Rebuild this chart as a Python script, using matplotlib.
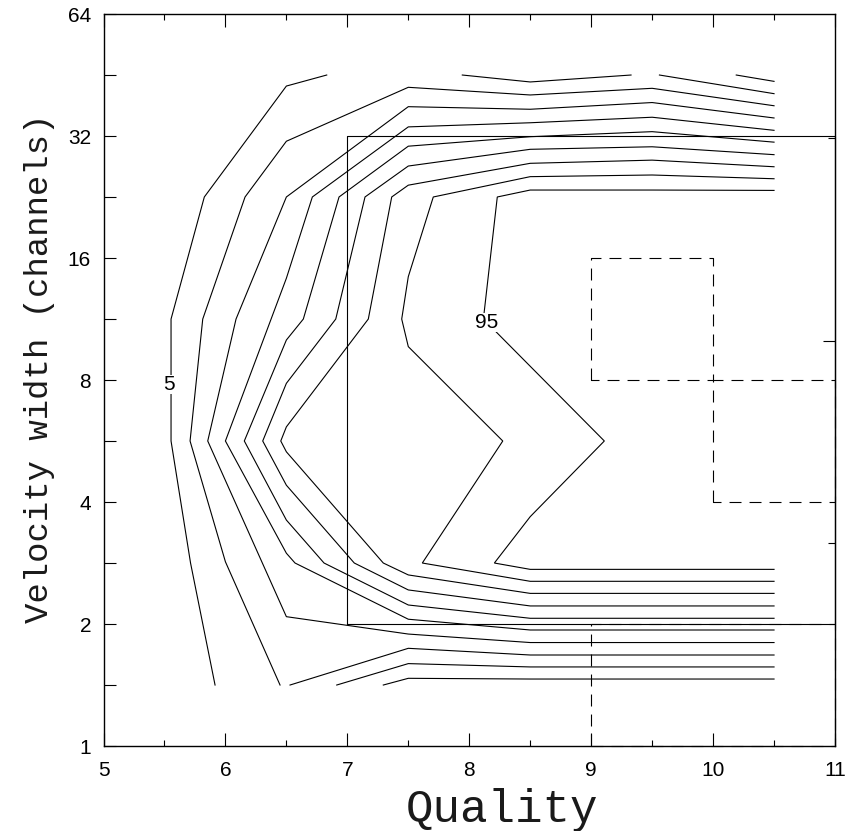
import matplotlib
matplotlib.use("Agg")
import matplotlib.pyplot as plt
from matplotlib.ticker import FixedLocator, FixedFormatter, NullFormatter

# ---- contour levels (completeness, percent) ----
levels = [5, 16.25, 27.5, 38.75, 50, 61.25, 72.5, 83.75, 95]

# ---- contour polylines: quality vs velocity width (channels) ----
# level 5 (several pieces: it leaves and re-enters the grid top edge)
c1_q = [5.915, 5.714, 5.554, 5.554, 5.827, 6.5, 6.831]
c1_w = [1.414, 2.828, 5.657, 11.31, 22.63, 42.5, 45.25]
c1b_q = [7.943, 8.5, 9.327]
c1b_w = [45.25, 43.5, 45.25]
c1c_q = [9.56, 10.5]
c1c_w = [45.25, 40.7]
c1d_q = [10.19, 10.5]
c1d_w = [45.25, 43.65]

c2_q = [6.448, 6.0, 5.71, 5.814, 6.161, 6.5, 7.5, 8.5, 9.5, 10.5]
c2_w = [1.414, 2.848, 5.657, 11.31, 22.63, 31.06, 42.2, 40.4, 41.96, 38.0]

c3_q = [10.5, 8.5, 7.5, 6.5, 5.855, 6.087, 6.5, 7.5, 8.5, 9.5, 10.5]
c3_w = [1.80, 1.80, 1.889, 2.085, 5.657, 11.31, 22.63, 37.8, 37.25, 38.7, 35.45]

c4_q = [10.5, 8.5, 7.5, 6.571, 6.5, 6.0, 6.5, 6.713, 7.5, 8.5, 9.5, 10.5]
c4_w = [1.933, 1.933, 2.055, 2.828, 2.99, 5.657, 14.26, 22.63, 33.7, 34.5, 35.6, 33.05]

c5_q = [10.5, 8.5, 7.5, 6.809, 6.5, 6.155, 6.5, 6.639, 6.932, 7.5, 8.5, 9.5, 10.5]
c5_w = [2.066, 2.066, 2.228, 2.828, 3.61, 5.657, 10.04, 11.31, 22.63, 30.2, 31.87, 32.8, 30.9]

c6_q = [10.5, 8.5, 7.5, 7.057, 6.5, 6.306, 6.5, 6.905, 7.145, 7.5, 8.5, 9.5, 10.5]
c6_w = [2.216, 2.216, 2.427, 2.828, 4.40, 5.657, 7.85, 11.31, 22.63, 26.98, 29.67, 30.1, 28.78]

c7_q = [10.5, 8.5, 7.5, 7.295, 6.5, 6.454, 6.5, 7.172, 7.364, 7.5, 8.5, 9.5, 10.5]
c7_w = [2.38, 2.38, 2.643, 2.828, 5.32, 5.657, 6.13, 11.31, 22.63, 24.2, 27.4, 27.9, 26.87]

c8_q = [10.5, 8.5, 7.615, 8.275, 7.5, 7.446, 7.5, 7.705, 8.5, 9.5, 10.5]
c8_w = [2.549, 2.549, 2.828, 5.657, 9.67, 11.31, 14.39, 22.63, 25.4, 25.64, 25.1]

c9_q = [10.5, 8.5, 8.206, 8.5, 9.108, 8.116, 8.23, 8.5, 9.5, 10.5]
c9_w = [2.728, 2.728, 2.828, 3.68, 5.657, 11.31, 22.63, 23.54, 23.54, 23.49]

# short pieces entering from the lower grid edge
low_a_q = [6.53, 7.5, 8.5, 10.5]
low_a_w = [1.414, 1.742, 1.677, 1.677]
low_b_q = [6.913, 7.5, 8.5, 10.5]
low_b_w = [1.414, 1.597, 1.567, 1.567]
low_c_q = [7.295, 7.5, 8.5, 10.5]
low_c_w = [1.414, 1.469, 1.463, 1.463]

# ---- selection regions (quality range, width range) ----
main_box = [7, 11, 2, 32]
dashed_boxes = [[9, 10, 8, 16], [10, 11, 4, 8], [9, 11, 1, 2]]

# ---- contour label positions (quality, width) ----
label_lo = (5.54, 7.82)
label_hi = (8.146, 11.09)

# ---- axis ticks ----
x_major = [5, 6, 7, 8, 9, 10, 11]
x_minor = [5.5, 6.5, 7.5, 8.5, 9.5, 10.5]
y_major = [1, 2, 4, 8, 16, 32, 64]
y_minor = [1.414, 2.828, 5.657, 11.31, 22.63, 45.25]
r_major = [10]
r_minor = [3.162, 31.62]

SANS = ["Liberation Sans", "DejaVu Sans"]
MONO = ["Liberation Mono", "DejaVu Sans Mono"]
plt.rcParams["lines.scale_dashes"] = False

fig = plt.figure(figsize=(8.46, 8.31), dpi=100)
ax = fig.add_axes([103.5 / 846, 85 / 831, 731.5 / 846, 732 / 831])
ax.set_yscale("log", base=2)
ax.set_xlim(5, 11)
ax.set_ylim(1, 64)

line_kw = dict(color="black", lw=0.8, solid_joinstyle="miter")
pieces = [
    (c1_q, c1_w), (c1b_q, c1b_w), (c1c_q, c1c_w), (c1d_q, c1d_w),
    (c2_q, c2_w), (c3_q, c3_w), (c4_q, c4_w), (c5_q, c5_w),
    (c6_q, c6_w), (c7_q, c7_w), (c8_q, c8_w), (c9_q, c9_w),
    (low_a_q, low_a_w), (low_b_q, low_b_w), (low_c_q, low_c_w),
]
for q, w in pieces:
    ax.plot(q, w, **line_kw)

# solid selection box
x0, x1, y0, y1 = main_box
ax.plot([x0, x0, x1, x1, x0], [y0, y1, y1, y0, y0], color="black", lw=0.8,
        clip_on=False)

# dashed sub-regions
for x0, x1, y0, y1 in dashed_boxes:
    ax.plot([x0, x0, x1, x1, x0], [y0, y1, y1, y0, y0], color="black", lw=0.8,
            linestyle=(0, (8.6, 5.8)), clip_on=False)

# contour labels
for (lx, ly), lev in [(label_lo, levels[0]), (label_hi, levels[-1])]:
    ax.text(lx, ly, f"{lev:g}", fontsize=15, family=SANS, ha="center",
            va="center", zorder=5,
            bbox=dict(facecolor="white", edgecolor="none", pad=0))

# ticks
ax.xaxis.set_major_locator(FixedLocator(x_major))
ax.xaxis.set_minor_locator(FixedLocator(x_minor))
ax.xaxis.set_major_formatter(FixedFormatter([str(v) for v in x_major]))
ax.xaxis.set_minor_formatter(NullFormatter())
ax.yaxis.set_major_locator(FixedLocator(y_major))
ax.yaxis.set_minor_locator(FixedLocator(y_minor))
ax.yaxis.set_major_formatter(FixedFormatter([str(v) for v in y_major]))
ax.yaxis.set_minor_formatter(NullFormatter())

ax.tick_params(axis="both", which="both", direction="in", width=0.8,
               color="black", top=True, right=False)
ax.tick_params(axis="x", which="major", length=9.1, pad=11, labelsize=15)
ax.tick_params(axis="x", which="minor", length=4.3)
ax.tick_params(axis="y", which="major", length=8.6, pad=9, labelsize=15)
ax.tick_params(axis="y", which="minor", length=8.6)
for lab in ax.get_xticklabels() + ax.get_yticklabels():
    lab.set_family(SANS)

for sp in ax.spines.values():
    sp.set_linewidth(1.0)

# right-hand axis in decades
ax2 = ax.twinx()
ax2.set_yscale("log")
ax2.set_ylim(1, 64)
ax2.yaxis.set_major_locator(FixedLocator(r_major))
ax2.yaxis.set_minor_locator(FixedLocator(r_minor))
ax2.yaxis.set_major_formatter(NullFormatter())
ax2.yaxis.set_minor_formatter(NullFormatter())
ax2.tick_params(axis="y", which="major", direction="in", length=8.6, width=0.8)
ax2.tick_params(axis="y", which="minor", direction="in", length=4.8, width=0.8)
for sp in ax2.spines.values():
    sp.set_visible(False)

ax.set_xlabel("Quality", family=MONO, fontsize=33, color="#1a1a1a")
ax.xaxis.set_label_coords(0.545, -0.104)
ax.xaxis.label.set_va("baseline")
ax.set_ylabel("Velocity width (channels)", family=MONO, fontsize=24.5,
              color="#1a1a1a")
ax.yaxis.set_label_coords(-0.076, 0.516)
ax.yaxis.label.set_va("baseline")

fig.savefig("out.png", dpi=100)
